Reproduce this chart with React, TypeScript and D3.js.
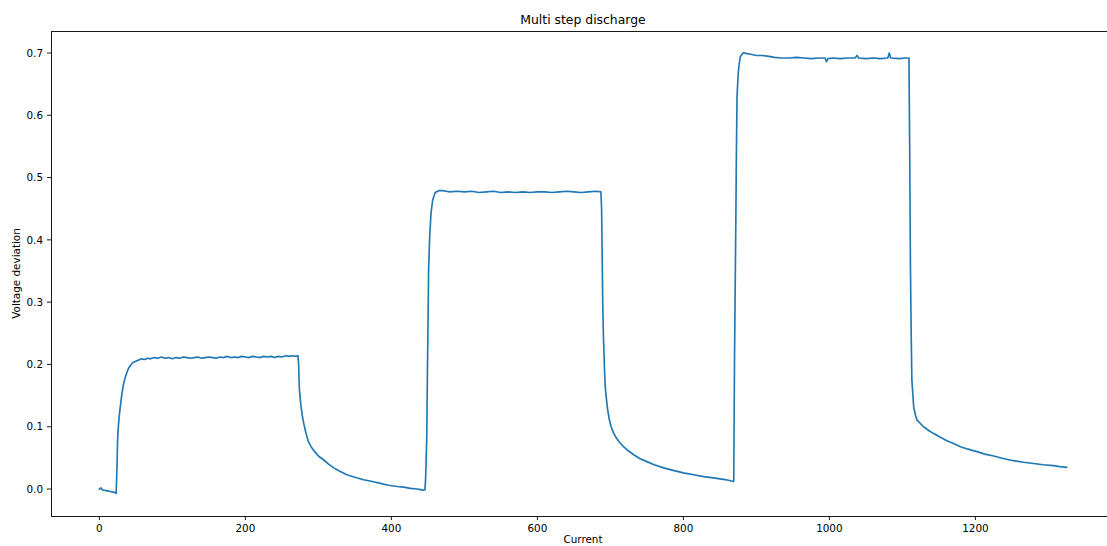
import React from "react";
import * as d3 from "d3";

const current: number[] = [
  0, 2, 4, 6, 8, 10, 12, 14, 16, 18, 20, 22, 23,
  24, 25, 26, 27, 29, 31, 33, 35.6, 38, 40, 43, 46, 50, 54,
  58, 62, 66, 70, 75, 80, 85, 90, 95, 100, 105, 110, 115, 120, 125, 130, 135, 140, 145, 150, 155, 160, 165, 170, 175, 180, 185, 190, 195, 200, 205, 210, 215, 220, 225, 230, 235, 240, 245, 250, 255, 260, 265, 270, 272,
  273, 274, 276, 278, 280, 283, 286, 290, 295, 300, 307, 314, 321, 330, 339, 350, 362, 374, 385, 396, 408, 417, 426, 435, 440, 444, 446,
  447, 448.5, 449.5, 450, 451, 452.5, 454.3, 456.6, 460, 465, 470,
  475, 480, 490, 500, 510, 520, 530, 540, 550, 560, 570, 580, 590, 600, 610, 620, 630, 640, 650, 660, 670, 680, 687,
  688, 689.5, 690.5, 692, 693, 694.5, 696.3, 698.5, 701, 704, 707, 712, 718, 725, 732, 740, 750, 760, 773, 786, 800, 814, 828, 841, 855, 862, 868, 869,
  870, 870.8, 871.3, 872, 872.5, 873.5, 875, 876, 878, 882, 887, 892, 900, 908, 915, 925, 933, 945, 955, 965, 975, 985, 994, 996, 998, 1005, 1015, 1025, 1035, 1038, 1040, 1050, 1060, 1070, 1080, 1082, 1084, 1095, 1105, 1109,
  1110, 1111, 1112, 1113, 1115.5, 1118, 1120, 1124, 1129, 1136, 1143, 1152, 1161, 1170, 1179.5, 1190, 1202, 1213, 1225, 1238, 1252, 1266, 1280, 1293, 1307, 1316, 1325,
];

const deviation: number[] = [
  0.0, 0.002, -0.001, -0.002, -0.002, -0.003, -0.003, -0.004, -0.004, -0.005, -0.005, -0.006, -0.007,
  0.03, 0.079, 0.1, 0.115, 0.135, 0.154, 0.168, 0.18, 0.188, 0.194, 0.199, 0.203, 0.205, 0.207,
  0.209, 0.208, 0.21, 0.209, 0.211, 0.21, 0.212, 0.21, 0.211, 0.209, 0.211, 0.21, 0.212, 0.211, 0.21, 0.211, 0.212, 0.21, 0.211, 0.212, 0.211, 0.21, 0.212, 0.211, 0.213, 0.211, 0.212, 0.211, 0.213, 0.212, 0.211, 0.213, 0.212, 0.211, 0.213, 0.212, 0.213, 0.211, 0.213, 0.212, 0.214, 0.213, 0.214, 0.213, 0.214,
  0.2, 0.16, 0.135, 0.118, 0.105, 0.09, 0.077, 0.068, 0.06, 0.053, 0.047, 0.04, 0.034, 0.028, 0.023, 0.019, 0.015, 0.012, 0.009, 0.006, 0.004, 0.003, 0.001, 0.0, -0.001, -0.002, -0.001,
  0.02, 0.084, 0.2, 0.245, 0.352, 0.405, 0.443, 0.464, 0.476, 0.479, 0.479,
  0.478, 0.477, 0.478, 0.477, 0.478, 0.476, 0.477, 0.478, 0.476, 0.477, 0.476, 0.477, 0.476, 0.477, 0.477, 0.476, 0.477, 0.478, 0.477, 0.476, 0.477, 0.478, 0.477,
  0.45, 0.3, 0.245, 0.19, 0.164, 0.145, 0.127, 0.112, 0.1, 0.091, 0.084, 0.076, 0.068, 0.061, 0.055, 0.049, 0.044, 0.039, 0.034, 0.03, 0.026, 0.023, 0.02, 0.018, 0.0155, 0.014, 0.012, 0.013,
  0.202, 0.3, 0.362, 0.45, 0.523, 0.63, 0.665, 0.678, 0.694, 0.7005, 0.699, 0.698, 0.696, 0.696, 0.695, 0.693, 0.692, 0.692, 0.693, 0.692, 0.691, 0.692, 0.692, 0.686, 0.691, 0.692, 0.691, 0.692, 0.692, 0.696, 0.692, 0.691, 0.692, 0.691, 0.692, 0.7, 0.692, 0.691, 0.692, 0.692,
  0.55, 0.362, 0.255, 0.175, 0.132, 0.118, 0.111, 0.106, 0.1, 0.094, 0.089, 0.083, 0.0776, 0.073, 0.068, 0.064, 0.06, 0.056, 0.053, 0.049, 0.0455, 0.043, 0.041, 0.039, 0.0375, 0.036, 0.035,
];

const xTicks: number[] = [0, 200, 400, 600, 800, 1000, 1200];
const yTicks: number[] = [0.0, 0.1, 0.2, 0.3, 0.4, 0.5, 0.6, 0.7];

const titleText = "Multi step discharge";
const xLabel = "Current";
const yLabel = "Voltage deviation";

export default function App() {
  const W = 1107;
  const H = 546;
  const left = 51;
  const right = 1115;
  const top = 31;
  const bottom = 516;
  const font = "DejaVu Sans, sans-serif";
  const fs = 10.4;

  const x = d3.scaleLinear().domain([-66.25, 1391.25]).range([left, right]);
  const y = d3.scaleLinear().domain([-0.0433, 0.7353]).range([bottom, top]);

  const pts: [number, number][] = current.map((c, i) => [c, deviation[i]]);
  const line = d3
    .line<[number, number]>()
    .x((d) => x(d[0]))
    .y((d) => y(d[1]));

  return (
    <svg
      width={W}
      height={H}
      style={{ position: "absolute", left: 0, top: 0, background: "#fff" }}
    >
      <rect x={0} y={0} width={W} height={H} fill="#fff" />
      <defs>
        <clipPath id="plotclip">
          <rect x={left} y={top} width={right - left} height={bottom - top} />
        </clipPath>
      </defs>
      <path
        d={line(pts) || ""}
        fill="none"
        stroke="#1f77b4"
        strokeWidth={1.65}
        strokeLinejoin="round"
        strokeLinecap="square"
        clipPath="url(#plotclip)"
      />
      <rect
        x={left}
        y={top}
        width={right - left}
        height={bottom - top}
        fill="none"
        stroke="#000"
        strokeWidth={0.9}
        shapeRendering="crispEdges"
      />
      {xTicks.map((t) => (
        <g key={"x" + t}>
          <line
            x1={x(t)}
            x2={x(t)}
            y1={bottom}
            y2={bottom + 4}
            stroke="#000"
            strokeWidth={0.9}
          />
          <text
            x={x(t)}
            y={bottom + 8}
            dominantBaseline="hanging"
            textAnchor="middle"
            fontFamily={font}
            fontSize={fs}
            fill="#000"
          >
            {String(t)}
          </text>
        </g>
      ))}
      {yTicks.map((t) => (
        <g key={"y" + t}>
          <line
            x1={left - 4}
            x2={left}
            y1={y(t)}
            y2={y(t)}
            stroke="#000"
            strokeWidth={0.9}
          />
          <text
            x={left - 8}
            y={y(t)}
            dy="0.36em"
            textAnchor="end"
            fontFamily={font}
            fontSize={fs}
            fill="#000"
          >
            {t.toFixed(1)}
          </text>
        </g>
      ))}
      <text
        x={(left + right) / 2}
        y={24}
        textAnchor="middle"
        fontFamily={font}
        fontSize={12.4}
        fill="#000"
      >
        {titleText}
      </text>
      <text
        x={(left + right) / 2}
        y={543}
        textAnchor="middle"
        fontFamily={font}
        fontSize={fs}
        fill="#000"
      >
        {xLabel}
      </text>
      <text
        transform={`translate(20, ${(top + bottom) / 2}) rotate(-90)`}
        textAnchor="middle"
        fontFamily={font}
        fontSize={fs}
        fill="#000"
      >
        {yLabel}
      </text>
    </svg>
  );
}
